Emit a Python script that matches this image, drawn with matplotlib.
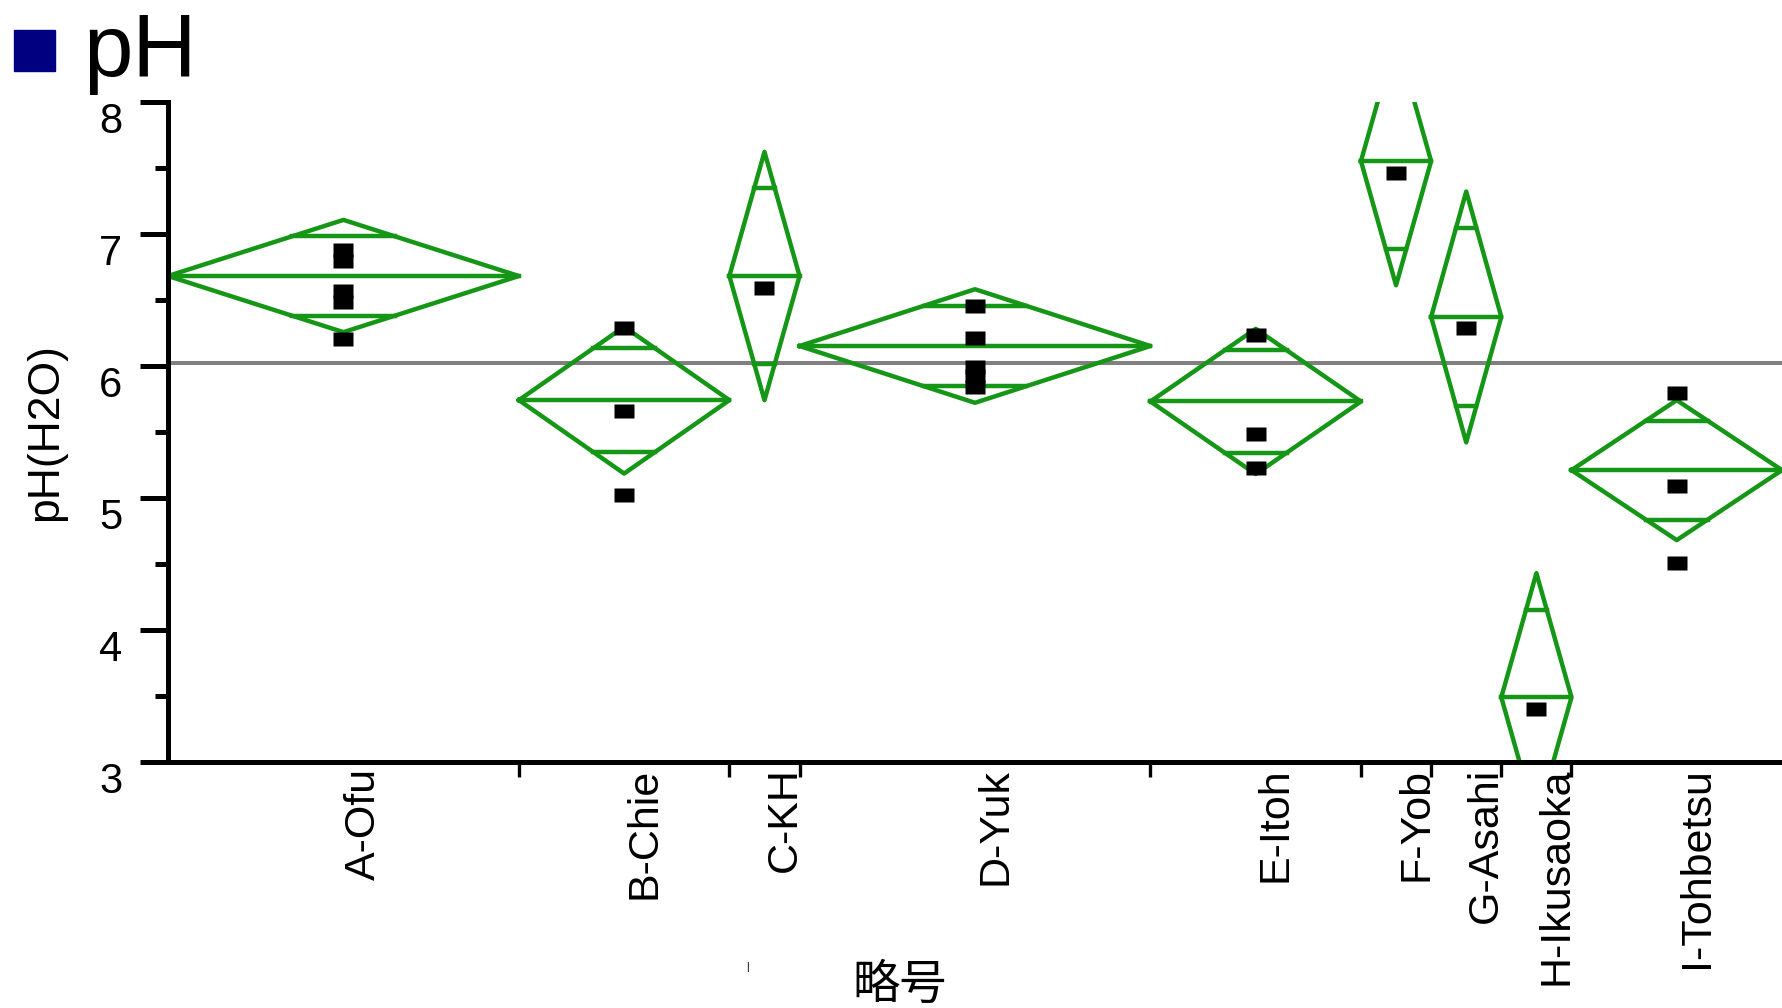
import numpy as np
import matplotlib.pyplot as plt
from matplotlib.patches import Rectangle
from matplotlib.path import Path

plt.rcParams['font.family'] = ['Liberation Sans', 'Noto Sans CJK JP', 'DejaVu Sans']

# sampling sites (略号) and measured pH(H2O)
sites = ['A-Ofu', 'B-Chie', 'C-KH', 'D-Yuk', 'E-Itoh', 'F-Yob', 'G-Asahi', 'H-Ikusaoka', 'I-Tohbetsu']
ph_values = [
    [6.875, 6.79, 6.57, 6.48, 6.20],
    [6.29, 5.66, 5.02],
    [6.59],
    [6.45, 6.21, 5.99, 5.92, 5.84],
    [6.23, 5.48, 5.23],
    [7.46],
    [6.29],
    [3.40],
    [5.795, 5.09, 4.51],
]
# means diamonds: group mean and 95% CI half-width
group_means = [6.68, 5.74, 6.68, 6.15, 5.73, 7.55, 6.37, 3.49, 5.21]
ci_half = [0.425, 0.556, 0.94, 0.43, 0.55, 0.94, 0.95, 0.94, 0.53]
grand_mean = 6.02

GREEN = '#169616'
W, H = 1782, 1008

counts = np.array([len(v) for v in ph_values])
edges = np.concatenate([[0], np.cumsum(counts)])
centers = (edges[:-1] + edges[1:]) / 2

fig = plt.figure(figsize=(W / 100, H / 100), dpi=100)
ax = fig.add_axes([168 / W, 246 / H, (W - 168) / W, 660.3 / H])

ax.axhline(grand_mean, color='#808080', lw=2.9, zorder=1)

for i in range(len(sites)):
    x0, x1, xc = edges[i], edges[i + 1], centers[i]
    m, h = group_means[i], ci_half[i]
    ax.plot([x0, xc, x1, xc, x0], [m, m + h, m, m - h, m], color=GREEN, lw=3.2, zorder=2)
    ax.plot([x0, x1], [m, m], color=GREEN, lw=3.2, zorder=2)
    # overlap marks span the diamond at mean +/- CI/sqrt(2)
    k = h / np.sqrt(2)
    w = (x1 - x0) / 2 * (1 - 1 / np.sqrt(2))
    for s in (1, -1):
        ax.plot([xc - w, xc + w], [m + s * k] * 2, color=GREEN, lw=3.2, zorder=2)

rect = Path([(-1.5, -1), (1.5, -1), (1.5, 1), (-1.5, 1), (-1.5, -1)], closed=True)
for xc, vals in zip(centers, ph_values):
    ax.plot([xc] * len(vals), vals, linestyle='none', marker=rect, markersize=15.1,
            mfc='black', mec='none', zorder=3)

ax.set_xlim(0, edges[-1])
ax.set_ylim(3, 8)

for side in ('top', 'right'):
    ax.spines[side].set_visible(False)
for side in ('left', 'bottom'):
    ax.spines[side].set_linewidth(3.6)

ax.set_yticks(np.arange(3, 9))
ax.set_yticks(np.arange(3.5, 8, 1), minor=True)
ax.tick_params(axis='y', which='major', length=20, width=3.6, pad=13, labelsize=30)
ax.tick_params(axis='y', which='minor', length=9.4, width=3.6)
for lab in ax.get_yticklabels():
    lab.set_va('top')

ax.set_xticks(edges[1:-1])
ax.set_xticklabels([])
ax.set_xticks(centers, minor=True)
ax.set_xticklabels(sites, minor=True, rotation=90, ha='left', fontsize=31)
ax.tick_params(axis='x', which='major', length=11, width=2.4)
ax.tick_params(axis='x', which='minor', length=0, pad=4)

ax.set_ylabel('pH(H2O)', fontsize=32)
ax.yaxis.set_label_coords(-0.063, 0.5)
ax.set_xlabel('略号', fontsize=34, family=['Noto Sans CJK JP'], va='center')
ax.xaxis.set_label_coords((900 - 168) / (W - 168), -0.338)

fig.patches.append(Rectangle((14 / W, 1 - 71 / H), 41 / W, 41 / H,
                             transform=fig.transFigure, color='#000080'))
fig.text(83 / W, 1 - 76 / H, 'pH', fontsize=64, va='baseline')
fig.text(747 / W, 1 - 967 / H, '|', fontsize=7.5, va='center', ha='center')

fig.savefig('out.png', dpi=100)
